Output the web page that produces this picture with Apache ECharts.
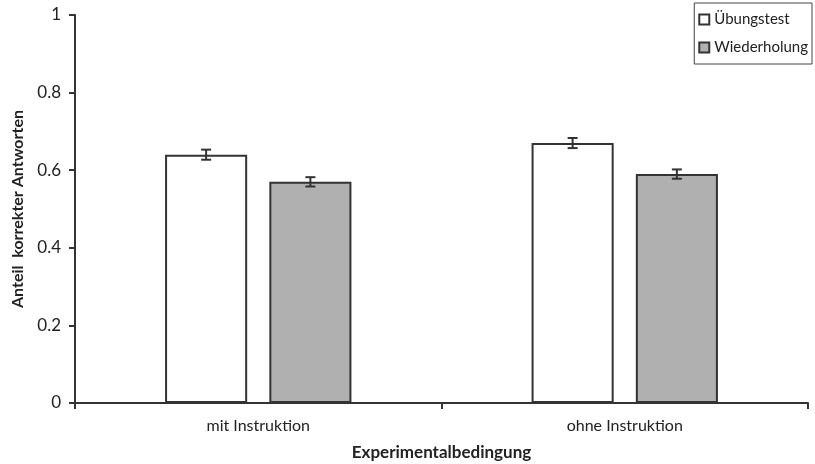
<!DOCTYPE html>
<html>
<head>
<meta charset="utf-8">
<script src="https://cdn.jsdelivr.net/npm/echarts@6/dist/echarts.min.js"></script>
<style>
  html, body { margin: 0; padding: 0; background: #fff; }
  #chart { width: 815px; height: 464px; }
</style>
</head>
<body>
<div id="chart"></div>
<script>
// Conditions and mean proportions of correct answers
var categories = ['mit Instruktion', 'ohne Instruktion'];
var uebungstest = [0.64, 0.67];
var wiederholung = [0.57, 0.59];
var uebungstestErr = [0.013, 0.013];
var wiederholungErr = [0.012, 0.012];
var seriesNames = ['Übungstest', 'Wiederholung'];

var FONT = 'Lato, "Open Sans", sans-serif';
var BAR_WIDTH_PCT = 0.224;
var BAR_GAP_PCT = 0.27;

// Error bars drawn over a bar series, positioned by the same band layout
function errorSeries(values, errs, sign) {
  var data = values.map(function (v, i) { return [i, v, errs[i]]; });
  return {
    type: 'custom',
    silent: true,
    z: 10,
    data: data,
    renderItem: function (params, api) {
      var idx = api.value(0);
      var v = api.value(1);
      var e = api.value(2);
      var band = api.size([1, 0])[0];
      var bw = band * BAR_WIDTH_PCT;
      var off = sign * (bw + bw * BAR_GAP_PCT) / 2;
      var hi = api.coord([idx, v + e]);
      var lo = api.coord([idx, v - e]);
      var x = hi[0] + off;
      var cap = 5;
      var style = { stroke: '#333', lineWidth: 2, fill: null };
      return {
        type: 'group',
        children: [
          { type: 'line', shape: { x1: x, y1: hi[1], x2: x, y2: lo[1] }, style: style },
          { type: 'line', shape: { x1: x - cap, y1: hi[1], x2: x + cap, y2: hi[1] }, style: style },
          { type: 'line', shape: { x1: x - cap, y1: lo[1], x2: x + cap, y2: lo[1] }, style: style }
        ]
      };
    }
  };
}

var chart = echarts.init(document.getElementById('chart'), null, { renderer: 'canvas' });
chart.setOption({
  backgroundColor: '#fff',
  animation: false,
  textStyle: { fontFamily: FONT },
  grid: { left: 75, right: 7, top: 15, bottom: 61, containLabel: false, outerBoundsMode: 'none' },
  legend: {
    data: seriesNames,
    orient: 'vertical',
    right: 3,
    top: 3,
    itemWidth: 10,
    itemHeight: 10,
    itemGap: 13,
    padding: [9, 4, 9, 4],
    borderColor: '#444',
    borderWidth: 1,
    icon: 'rect',
    textStyle: { fontFamily: FONT, fontSize: 15, color: '#222' }
  },
  xAxis: {
    type: 'category',
    data: categories,
    name: 'Experimentalbedingung',
    nameLocation: 'middle',
    nameGap: 41,
    nameTextStyle: { fontFamily: FONT, fontSize: 17, fontWeight: 'bold', color: '#222' },
    axisLine: { lineStyle: { color: '#333', width: 2 } },
    axisTick: { show: true, length: 6, lineStyle: { color: '#333', width: 2 } },
    axisLabel: { fontFamily: FONT, fontSize: 16, color: '#222', margin: 15 }
  },
  yAxis: {
    type: 'value',
    min: 0,
    max: 1,
    interval: 0.2,
    name: 'Anteil  korrekter Antworten',
    nameLocation: 'middle',
    nameGap: 49,
    nameTextStyle: { fontFamily: FONT, fontSize: 16, fontWeight: 'bold', color: '#222' },
    splitLine: { show: false },
    axisLine: { show: true, lineStyle: { color: '#333', width: 2 } },
    axisTick: { show: true, length: 6, lineStyle: { color: '#333', width: 2 } },
    axisLabel: { fontFamily: FONT, fontSize: 17, color: '#222', margin: 14 }
  },
  series: [
    {
      name: seriesNames[0],
      type: 'bar',
      data: uebungstest,
      barWidth: (BAR_WIDTH_PCT * 100) + '%',
      barGap: (BAR_GAP_PCT * 100) + '%',
      itemStyle: { color: '#ffffff', borderColor: '#333', borderWidth: 2 }
    },
    {
      name: seriesNames[1],
      type: 'bar',
      data: wiederholung,
      barWidth: (BAR_WIDTH_PCT * 100) + '%',
      barGap: (BAR_GAP_PCT * 100) + '%',
      itemStyle: { color: '#b0b0b0', borderColor: '#333', borderWidth: 2 }
    },
    errorSeries(uebungstest, uebungstestErr, -1),
    errorSeries(wiederholung, wiederholungErr, 1)
  ]
});
</script>
</body>
</html>
